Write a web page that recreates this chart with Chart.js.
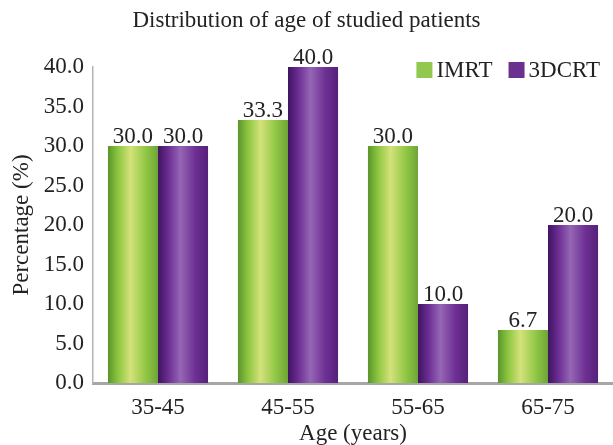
<!DOCTYPE html>
<html>
<head>
<meta charset="utf-8">
<script src="https://cdn.jsdelivr.net/npm/chart.js@4"></script>
<style>
  html, body { margin: 0; padding: 0; background: #fff; }
  #wrap { width: 613px; height: 445px; }
</style>
</head>
<body>
<div id="wrap"><canvas id="ageChart"></canvas></div>
<script>
const ageGroups = ['35-45', '45-55', '55-65', '65-75'];
const imrtValues = [30.0, 33.3, 30.0, 6.7];
const dcrtValues = [30.0, 40.0, 10.0, 20.0];

const serif = "'Liberation Serif', 'Times New Roman', serif";
const txt = '#222';

// couleurs des barres (effet cylindre)
const greenStops = ['#5a942c', '#8cc63f', '#d3e27a', '#92c846', '#6ea534'];
const purpleStops = ['#3e1460', '#6a2c91', '#9566b5', '#6d2f93', '#55207a'];
const legendColors = ['#92c850', '#6b2f8f'];

const cylinderPlugin = {
  id: 'cylinder',
  beforeDatasetsDraw(chart) {
    const c = chart.ctx;
    chart.data.datasets.forEach((ds, i) => {
      const stops = i === 0 ? greenStops : purpleStops;
      chart.getDatasetMeta(i).data.forEach(bar => {
        const x0 = bar.x - bar.width / 2, x1 = bar.x + bar.width / 2;
        const g = c.createLinearGradient(x0, 0, x1, 0);
        g.addColorStop(0, stops[0]);
        g.addColorStop(0.2, stops[1]);
        g.addColorStop(0.45, stops[2]);
        g.addColorStop(0.75, stops[3]);
        g.addColorStop(1, stops[4]);
        bar.options.backgroundColor = g;
      });
    });
  }
};

const labelsPlugin = {
  id: 'barLabels',
  afterDatasetsDraw(chart) {
    const c = chart.ctx;
    c.save();
    c.font = '23px ' + serif;
    c.fillStyle = txt;
    c.textAlign = 'center';
    c.textBaseline = 'alphabetic';
    chart.data.datasets.forEach((ds, i) => {
      chart.getDatasetMeta(i).data.forEach((bar, j) => {
        c.fillText(ds.data[j].toFixed(1), bar.x, bar.y - 3);
      });
    });
    c.restore();
  }
};

// légende dans la zone du graphique, en haut à droite
const insideLegend = {
  id: 'insideLegend',
  afterDraw(chart) {
    const c = chart.ctx;
    const area = chart.chartArea;
    c.save();
    c.font = '23px ' + serif;
    c.textBaseline = 'middle';
    c.textAlign = 'left';
    const box = 16, gap = 4, spacing = 16;
    const items = chart.data.datasets.map((ds, i) => ({ text: ds.label, color: legendColors[i] }));
    let total = 0;
    items.forEach((it, i) => {
      it.w = c.measureText(it.text).width;
      total += box + gap + it.w + (i > 0 ? spacing : 0);
    });
    let x = area.right - 13 - total;
    const y = area.top + 3;
    items.forEach(it => {
      c.fillStyle = it.color;
      c.fillRect(x, y - box / 2, box, box);
      c.fillStyle = txt;
      c.fillText(it.text, x + box + gap, y + 1);
      x += box + gap + it.w + spacing;
    });
    c.restore();
  }
};

new Chart(document.getElementById('ageChart'), {
  type: 'bar',
  data: {
    labels: ageGroups,
    datasets: [
      {
        label: 'IMRT',
        data: imrtValues,
        backgroundColor: () => greenStops[1], // fonction => options non partagées
        borderWidth: 0,
        categoryPercentage: 0.77,
        barPercentage: 1.0
      },
      {
        label: '3DCRT',
        data: dcrtValues,
        backgroundColor: () => purpleStops[1],
        borderWidth: 0,
        categoryPercentage: 0.77,
        barPercentage: 1.0
      }
    ]
  },
  options: {
    responsive: true,
    maintainAspectRatio: false,
    animation: false,
    layout: { padding: 0 },
    scales: {
      x: {
        afterFit: scale => { scale.height = 62; },
        grid: { display: false, drawTicks: false },
        border: { color: '#a6a6a6', width: 3 },
        ticks: { color: txt, font: { family: serif, size: 23, lineHeight: 1 }, padding: 13 },
        title: {
          display: true,
          text: 'Age (years)',
          color: txt,
          font: { family: serif, size: 23, lineHeight: 1 },
          padding: 0
        }
      },
      y: {
        min: 0,
        max: 40,
        afterFit: scale => { scale.width = 93; },
        grid: { display: false, drawTicks: false },
        border: { color: '#b4b4b4', width: 1.5 },
        ticks: {
          stepSize: 5,
          color: txt,
          font: { family: serif, size: 23, lineHeight: 1 },
          padding: 9,
          callback: v => v.toFixed(1)
        },
        title: {
          display: true,
          text: 'Percentage (%)',
          color: txt,
          font: { family: serif, size: 23, lineHeight: 1 },
          padding: { top: 10, bottom: 2 }
        }
      }
    },
    plugins: {
      title: {
        display: true,
        text: 'Distribution of age of studied patients',
        color: txt,
        font: { family: serif, size: 23, weight: 'normal', lineHeight: 1 },
        padding: { top: 9, bottom: 35 }
      },
      legend: { display: false },
      tooltip: { enabled: false }
    }
  },
  plugins: [cylinderPlugin, labelsPlugin, insideLegend]
});
</script>
</body>
</html>
